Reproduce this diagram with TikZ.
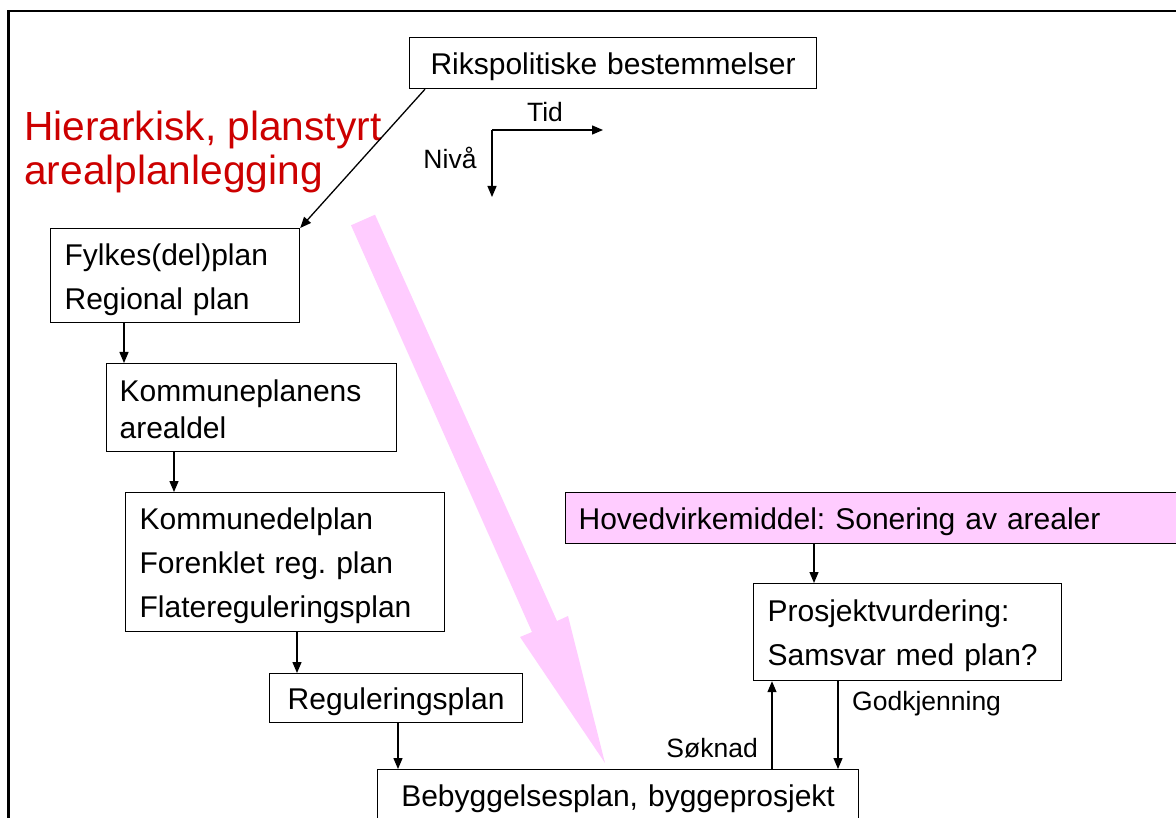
\documentclass[tikz,border=0pt]{standalone}
\usepackage{fontspec}
\setmainfont{Liberation Sans}
\usetikzlibrary{arrows.meta}
\definecolor{pinkfill}{HTML}{FFCCFF}
\definecolor{titlered}{HTML}{CC0000}
\frenchspacing
\newcommand\bst{\rule[-5pt]{0pt}{35pt}}
\begin{document}
\begin{tikzpicture}[x=1pt,y=-1pt,
  box/.style={draw=black, line width=1.2pt, inner xsep=14pt, inner ysep=0pt,
    anchor=north west, align=left, font=\fontsize{30}{44}\selectfont\frenchspacing},
  conn/.style={-{Triangle[length=11pt,width=9pt]}, line width=1.3pt},
  lbl/.style={font=\fontsize{26.5}{30}\selectfont, inner sep=0pt},
  titletext/.style={anchor=base west, inner sep=0pt, text=titlered, font=\fontsize{40.7}{46}\selectfont}]
\useasboundingbox (0,0) rectangle (1176,818);
% frame
\draw[line width=2.5pt] (8.5,820) -- (8.5,11) -- (1178,11);
% big pink arrow
\fill[pinkfill] (351,225.3) -- (532,632) -- (520,637) -- (605,763) -- (568,616) -- (557,621) -- (375,214.7) -- cycle;
% title
\node[titletext] (title1) at (24,141) {Hierarkisk, planstyrt};
\node[titletext] (title2) at (24,185) {arealplanlegging};
% boxes
\node[box, align=center, text width=379pt, minimum height=51pt] (riks) at (409,37) {\bst Rikspolitiske bestemmelser};
\node[box, text width=221pt, minimum height=94pt] (fylkes) at (50,228) {\bst Fylkes(del)plan\\\bst Regional plan};
\node[box, inner xsep=13pt, text width=264pt, minimum height=88pt] (komplan) at (106,363) {\bst Kommuneplanens\\[-7pt]\bst arealdel};
\node[box, text width=291pt, minimum height=139pt] (komdel) at (125,492) {\bst Kommunedelplan\\\bst Forenklet reg. plan\\\bst Flatereguleringsplan};
\node[box, align=center, text width=225pt, minimum height=49pt] (reg) at (269,673) {\bst Reguleringsplan};
\node[box, fill=pinkfill, inner xsep=13pt, text width=630pt, minimum height=51pt] (hoved) at (565,492) {\bst Hovedvirkemiddel: Sonering av arealer};
\node[box, text width=280pt, minimum height=97pt] (prosj) at (753,583) {\bst Prosjektvurdering:\\\bst Samsvar med plan?};
\node[box, align=center, text width=453pt, minimum height=50pt] (beb) at (377,769) {\bst Bebyggelsesplan, byggeprosjekt};
% connectors
\draw[conn] ([xshift=16pt]riks.south west) -- (fylkes.north east);
\draw[conn] ([xshift=74pt]fylkes.south west) -- ([xshift=74pt]fylkes.south west |- komplan.north);
\draw[conn] ([xshift=68pt]komplan.south west) -- ([xshift=68pt]komplan.south west |- komdel.north);
\draw[conn] ([xshift=172pt]komdel.south west) -- ([xshift=172pt]komdel.south west |- reg.north);
\draw[conn] ([xshift=129pt]reg.south west) -- ([xshift=129pt]reg.south west |- beb.north);
\draw[conn] ([xshift=61pt]prosj.north west |- hoved.south) -- ([xshift=61pt]prosj.north west);
\draw[conn] ([xshift=19pt]prosj.south west |- beb.north) -- ([xshift=19pt]prosj.south west);
\draw[conn] ([xshift=85pt]prosj.south west) -- ([xshift=85pt]prosj.south west |- beb.north);
% labels
\node[lbl, anchor=west] (godk) at (852,704) {Godkjenning};
\node[lbl, anchor=east] (soknad) at (758,748) {Søknad};
% axes
\coordinate (ax) at (492,130);
\coordinate (axT) at (603,130);
\coordinate (axN) at (492,197);
\draw[conn] (ax) -- (axT);
\draw[conn] (ax) -- (axN);
\node[lbl] (tid) at (545,112) {Tid};
\node[lbl] (niva) at (450,158) {Nivå};
\end{tikzpicture}
\end{document}
